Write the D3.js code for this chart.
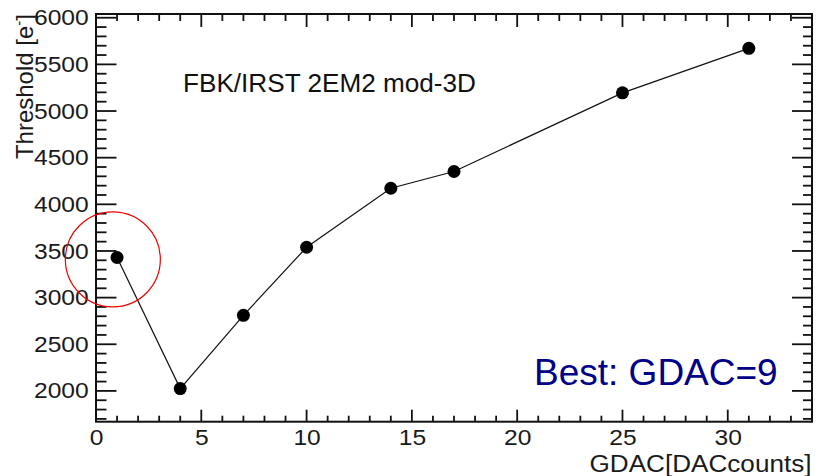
<!doctype html>
<html lang="en">
<head>
<meta charset="utf-8">
<title>Threshold vs GDAC</title>
<script src="https://cdn.jsdelivr.net/npm/d3@7"></script>
<style>
body { margin: 0; background: #fff; }
text { font-family: "Liberation Sans", Arial, Helvetica, sans-serif; }
</style>
</head>
<body>
<div id="svgHolder"></div>

<script>

// GDAC settings and measured threshold
var gdac = [1, 4, 7, 10, 14, 17, 25, 31];
var threshold = [3430, 2025, 2810, 3540, 4172, 4352, 5195, 5672];

var xTicks = [0, 5, 10, 15, 20, 25, 30];
var yTicks = [2000, 2500, 3000, 3500, 4000, 4500, 5000, 5500, 6000];

var chartTitle = "FBK/IRST 2EM2 mod-3D";
var bestNote = "Best: GDAC=9";

var width = 818;
var height = 476;

// frame edges (note: "top" is taken by window.top, so use other names)
var padL = 96, padT = 14, padR = 812, padB = 421.7;

var svg = d3.select("#svgHolder").append("svg")
    .attr("width", width)
    .attr("height", height);

var x = d3.scaleLinear().domain([0, 34]).range([padL, padR]);
var y = d3.scaleLinear().domain([1670, 6040]).range([padB, padT]);

var xMinor = d3.range(0, 35, 1);
var yMinor = d3.range(1700, 6040, 100);

// frame
svg.append("rect")
    .attr("x", padL).attr("y", padT)
    .attr("width", padR - padL).attr("height", padB - padT)
    .attr("fill", "none")
    .attr("stroke", "#111")
    .attr("stroke-width", 2);

// ticks on all four sides, pointing inward
function tickLines(vals, isX, len) {
	var g = svg.append("g").attr("stroke", "#111").attr("stroke-width", 1.8);
	vals.forEach(function(v) {
		if (isX) {
			g.append("line").attr("x1", x(v)).attr("x2", x(v)).attr("y1", padB).attr("y2", padB - len[0]);
			g.append("line").attr("x1", x(v)).attr("x2", x(v)).attr("y1", padT).attr("y2", padT + len[1]);
		} else {
			g.append("line").attr("y1", y(v)).attr("y2", y(v)).attr("x1", padL).attr("x2", padL + len[0]);
			g.append("line").attr("y1", y(v)).attr("y2", y(v)).attr("x1", padR).attr("x2", padR - len[1]);
		}
	});
}
tickLines(xMinor.filter(function(v) { return v % 5 != 0; }), true, [6, 7]);
tickLines(xTicks, true, [12, 13]);
tickLines(yMinor.filter(function(v) { return v % 500 != 0; }), false, [10.5, 9]);
tickLines(yTicks, false, [20.5, 20]);

// tick labels through d3 axes (tick lines drawn above)
var xAxis = svg.append("g")
    .attr("transform", "translate(0," + padB + ")")
    .call(d3.axisBottom(x).tickValues(xTicks).tickFormat(d3.format("d")).tickSize(0).tickPadding(8));
var yAxis = svg.append("g")
    .attr("transform", "translate(" + padL + ",0)")
    .call(d3.axisLeft(y).tickValues(yTicks).tickFormat(d3.format("d")).tickSize(0).tickPadding(6.5));

[xAxis, yAxis].forEach(function(a) {
	a.select(".domain").remove();
	a.selectAll("text")
		.attr("font-size", 22)
		.attr("fill", "#1a1a1a")
		.style("font-family", "'Liberation Sans', Arial, sans-serif")
		.attr("transform", "scale(1.12,1)");
});

// axis titles
svg.append("text")
    .attr("x", 811.5).attr("y", 471.5)
    .attr("text-anchor", "end")
    .attr("font-size", 23)
    .attr("fill", "#1a1a1a")
    .attr("textLength", 222)
    .attr("lengthAdjust", "spacingAndGlyphs")
    .text("GDAC[DACcounts]");

var yl = svg.append("text")
    .attr("transform", "translate(33,14) rotate(-90)")
    .attr("text-anchor", "end")
    .attr("font-size", 24)
    .attr("fill", "#1a1a1a");
yl.append("tspan").text("Threshold [e");
yl.append("tspan").attr("font-size", 15).attr("dy", -9).text("-");
yl.append("tspan").attr("dy", 9).text("]");

// line + markers
var line = d3.line()
    .x(function(d, i) { return x(gdac[i]); })
    .y(function(d) { return y(d); });

svg.append("path")
    .datum(threshold)
    .attr("d", line)
    .attr("fill", "none")
    .attr("stroke", "#111")
    .attr("stroke-width", 1.2);

svg.selectAll("circle.pt")
    .data(threshold)
    .enter()
    .append("circle")
    .attr("class", "pt")
    .attr("cx", function(d, i) { return x(gdac[i]); })
    .attr("cy", function(d) { return y(d); })
    .attr("r", 6.5)
    .attr("fill", "#000");

// texts
svg.append("text")
    .attr("x", 183).attr("y", 91.5)
    .attr("font-size", 25)
    .attr("fill", "#111")
    .attr("textLength", 293)
    .attr("lengthAdjust", "spacingAndGlyphs")
    .text(chartTitle);

svg.append("text")
    .attr("x", 534).attr("y", 385)
    .attr("font-size", 37)
    .attr("fill", "#000088")
    .text(bestNote);

// red circle around the GDAC=1 point
svg.append("circle")
    .attr("cx", x(0.8)).attr("cy", y(3410))
    .attr("r", 47.5)
    .attr("fill", "none")
    .attr("stroke", "#e00")
    .attr("stroke-width", 1.2);

</script>
</body>
</html>
